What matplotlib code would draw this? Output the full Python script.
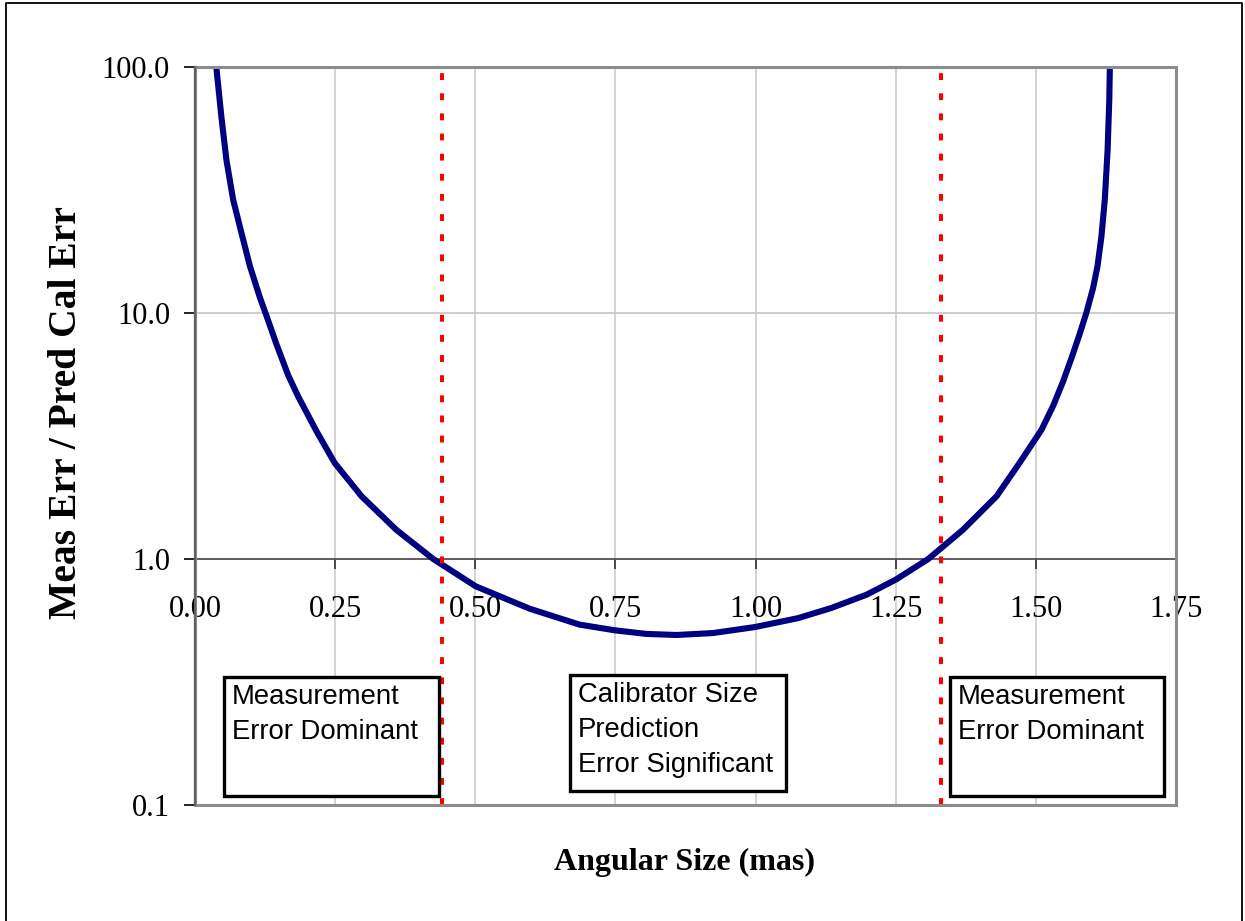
import numpy as np
import matplotlib.pyplot as plt
from matplotlib.patches import Rectangle
from matplotlib.lines import Line2D

# curve (angular size in mas, error ratio)
angular_size = [0.038, 0.047, 0.056, 0.068, 0.083, 0.098, 0.115, 0.130, 0.145, 0.166,
                0.184, 0.217, 0.249, 0.297, 0.359, 0.425, 0.501, 0.597, 0.686, 0.749,
                0.805, 0.859, 0.924, 0.999, 1.076, 1.135, 1.198, 1.250, 1.308, 1.370,
                1.430, 1.471, 1.510, 1.531, 1.549, 1.565, 1.578, 1.590, 1.602, 1.610,
                1.617, 1.623, 1.628, 1.631, 1.632]
err_ratio = [100.0, 63.0, 42.0, 28.9, 21.1, 15.5, 11.7, 9.39, 7.5, 5.6,
             4.58, 3.30, 2.46, 1.80, 1.315, 1.00, 0.774, 0.628, 0.541, 0.513,
             0.496, 0.491, 0.500, 0.529, 0.575, 0.632, 0.716, 0.824, 1.00, 1.315,
             1.80, 2.46, 3.35, 4.2, 5.3, 6.7, 8.2, 10.0, 12.6, 15.5,
             20.5, 28.9, 46.0, 73.6, 100.0]

# region boundaries (red dotted lines)
boundaries = [0.44, 1.33]

x_ticks = [0.00, 0.25, 0.50, 0.75, 1.00, 1.25, 1.50, 1.75]
y_ticks = [0.1, 1.0, 10.0, 100.0]
y_ticklabels = ["0.1", "1.0", "10.0", "100.0"]

box_texts = ["Measurement\nError Dominant",
             "Calibrator Size\nPrediction\nError Significant",
             "Measurement\nError Dominant"]

W, H = 1245, 921
fig = plt.figure(figsize=(W / 100, H / 100), dpi=100)
fig.patch.set_facecolor("white")


def fx(px):
    return px / W


def fy(py):
    return 1 - py / H


# outer chart border
fig.add_artist(Line2D([fx(6), fx(6), fx(1241.5), fx(1241.5)],
                      [fy(925), fy(3.5), fy(3.5), fy(925)],
                      color="black", lw=1.3, transform=fig.transFigure))

L, R, T, B = 195, 1176, 67, 805
ax = fig.add_axes([fx(L), fy(B), fx(R - L), (B - T) / H])
ax.set_yscale("log")
ax.set_xlim(0, 1.75)
ax.set_ylim(0.1, 100)

# grid
for xv in x_ticks[1:-1]:
    ax.axvline(xv, color="#c8c8c8", lw=1.1, zorder=0)
ax.axhline(10.0, color="#c0c0c0", lw=1.1, zorder=0)

# curve
ax.plot(angular_size, err_ratio, color="#000080", lw=4.4,
        solid_joinstyle="round", solid_capstyle="butt", zorder=3)

# red dotted boundaries
for b in boundaries:
    ax.axvline(b, color="red", lw=2.9, linestyle=(0, (1.7, 3.3)), zorder=4)

# plot-area frame
for s in ["top", "right"]:
    ax.spines[s].set_visible(False)
ax.add_patch(Rectangle((0, 0), 1, 1, transform=ax.transAxes, fill=False,
                       edgecolor="#8c8c8c", lw=2.2, clip_on=False, zorder=5))
ax.spines["left"].set_color("#606060")
ax.spines["left"].set_linewidth(1.6)
ax.spines["left"].set_zorder(6)

# x axis crosses at 1.0
ax.spines["bottom"].set_position(("data", 1.0))
ax.spines["bottom"].set_color("#505050")
ax.spines["bottom"].set_linewidth(1.3)
ax.set_xticks(x_ticks)
ax.set_xticklabels([f"{v:.2f}" for v in x_ticks])
ax.tick_params(axis="x", direction="out", length=7, width=1.2, color="#303030",
               pad=19, labelsize=22, labelcolor="black")
ax.minorticks_off()
ax.set_yticks(y_ticks)
ax.set_yticklabels(y_ticklabels)
ax.tick_params(axis="y", which="both", direction="out", length=8, width=1.2,
               color="black", pad=10, labelsize=22)
ax.yaxis.set_minor_locator(plt.NullLocator())
for lab in ax.get_xticklabels() + ax.get_yticklabels():
    lab.set_family("Liberation Serif")

# axis titles
fig.text(fx(685), fy(862), "Angular Size (mas)", family="Liberation Serif",
         fontweight="bold", fontsize=23, ha="center", va="center")
fig.text(fx(67), fy(413), "Meas Err / Pred Cal Err", family="Liberation Serif",
         fontweight="bold", fontsize=28.5, ha="center", va="center", rotation=90)

# annotation boxes (pixel rectangles)
boxes = [(224, 677, 439, 796), (570, 675, 786, 791), (950, 677, 1164, 796)]
for (x0, y0, x1, y1), txt in zip(boxes, box_texts):
    fig.add_artist(Rectangle((fx(x0), fy(y1)), fx(x1 - x0), (y1 - y0) / H,
                             transform=fig.transFigure, facecolor="white",
                             edgecolor="black", lw=2.4, zorder=10))
    fig.text(fx(x0 + 7.5), fy(y0 + 7), txt, family="Liberation Sans",
             fontsize=19.8, ha="left", va="top", linespacing=1.45, zorder=11)

fig.savefig("out.png", dpi=100)
